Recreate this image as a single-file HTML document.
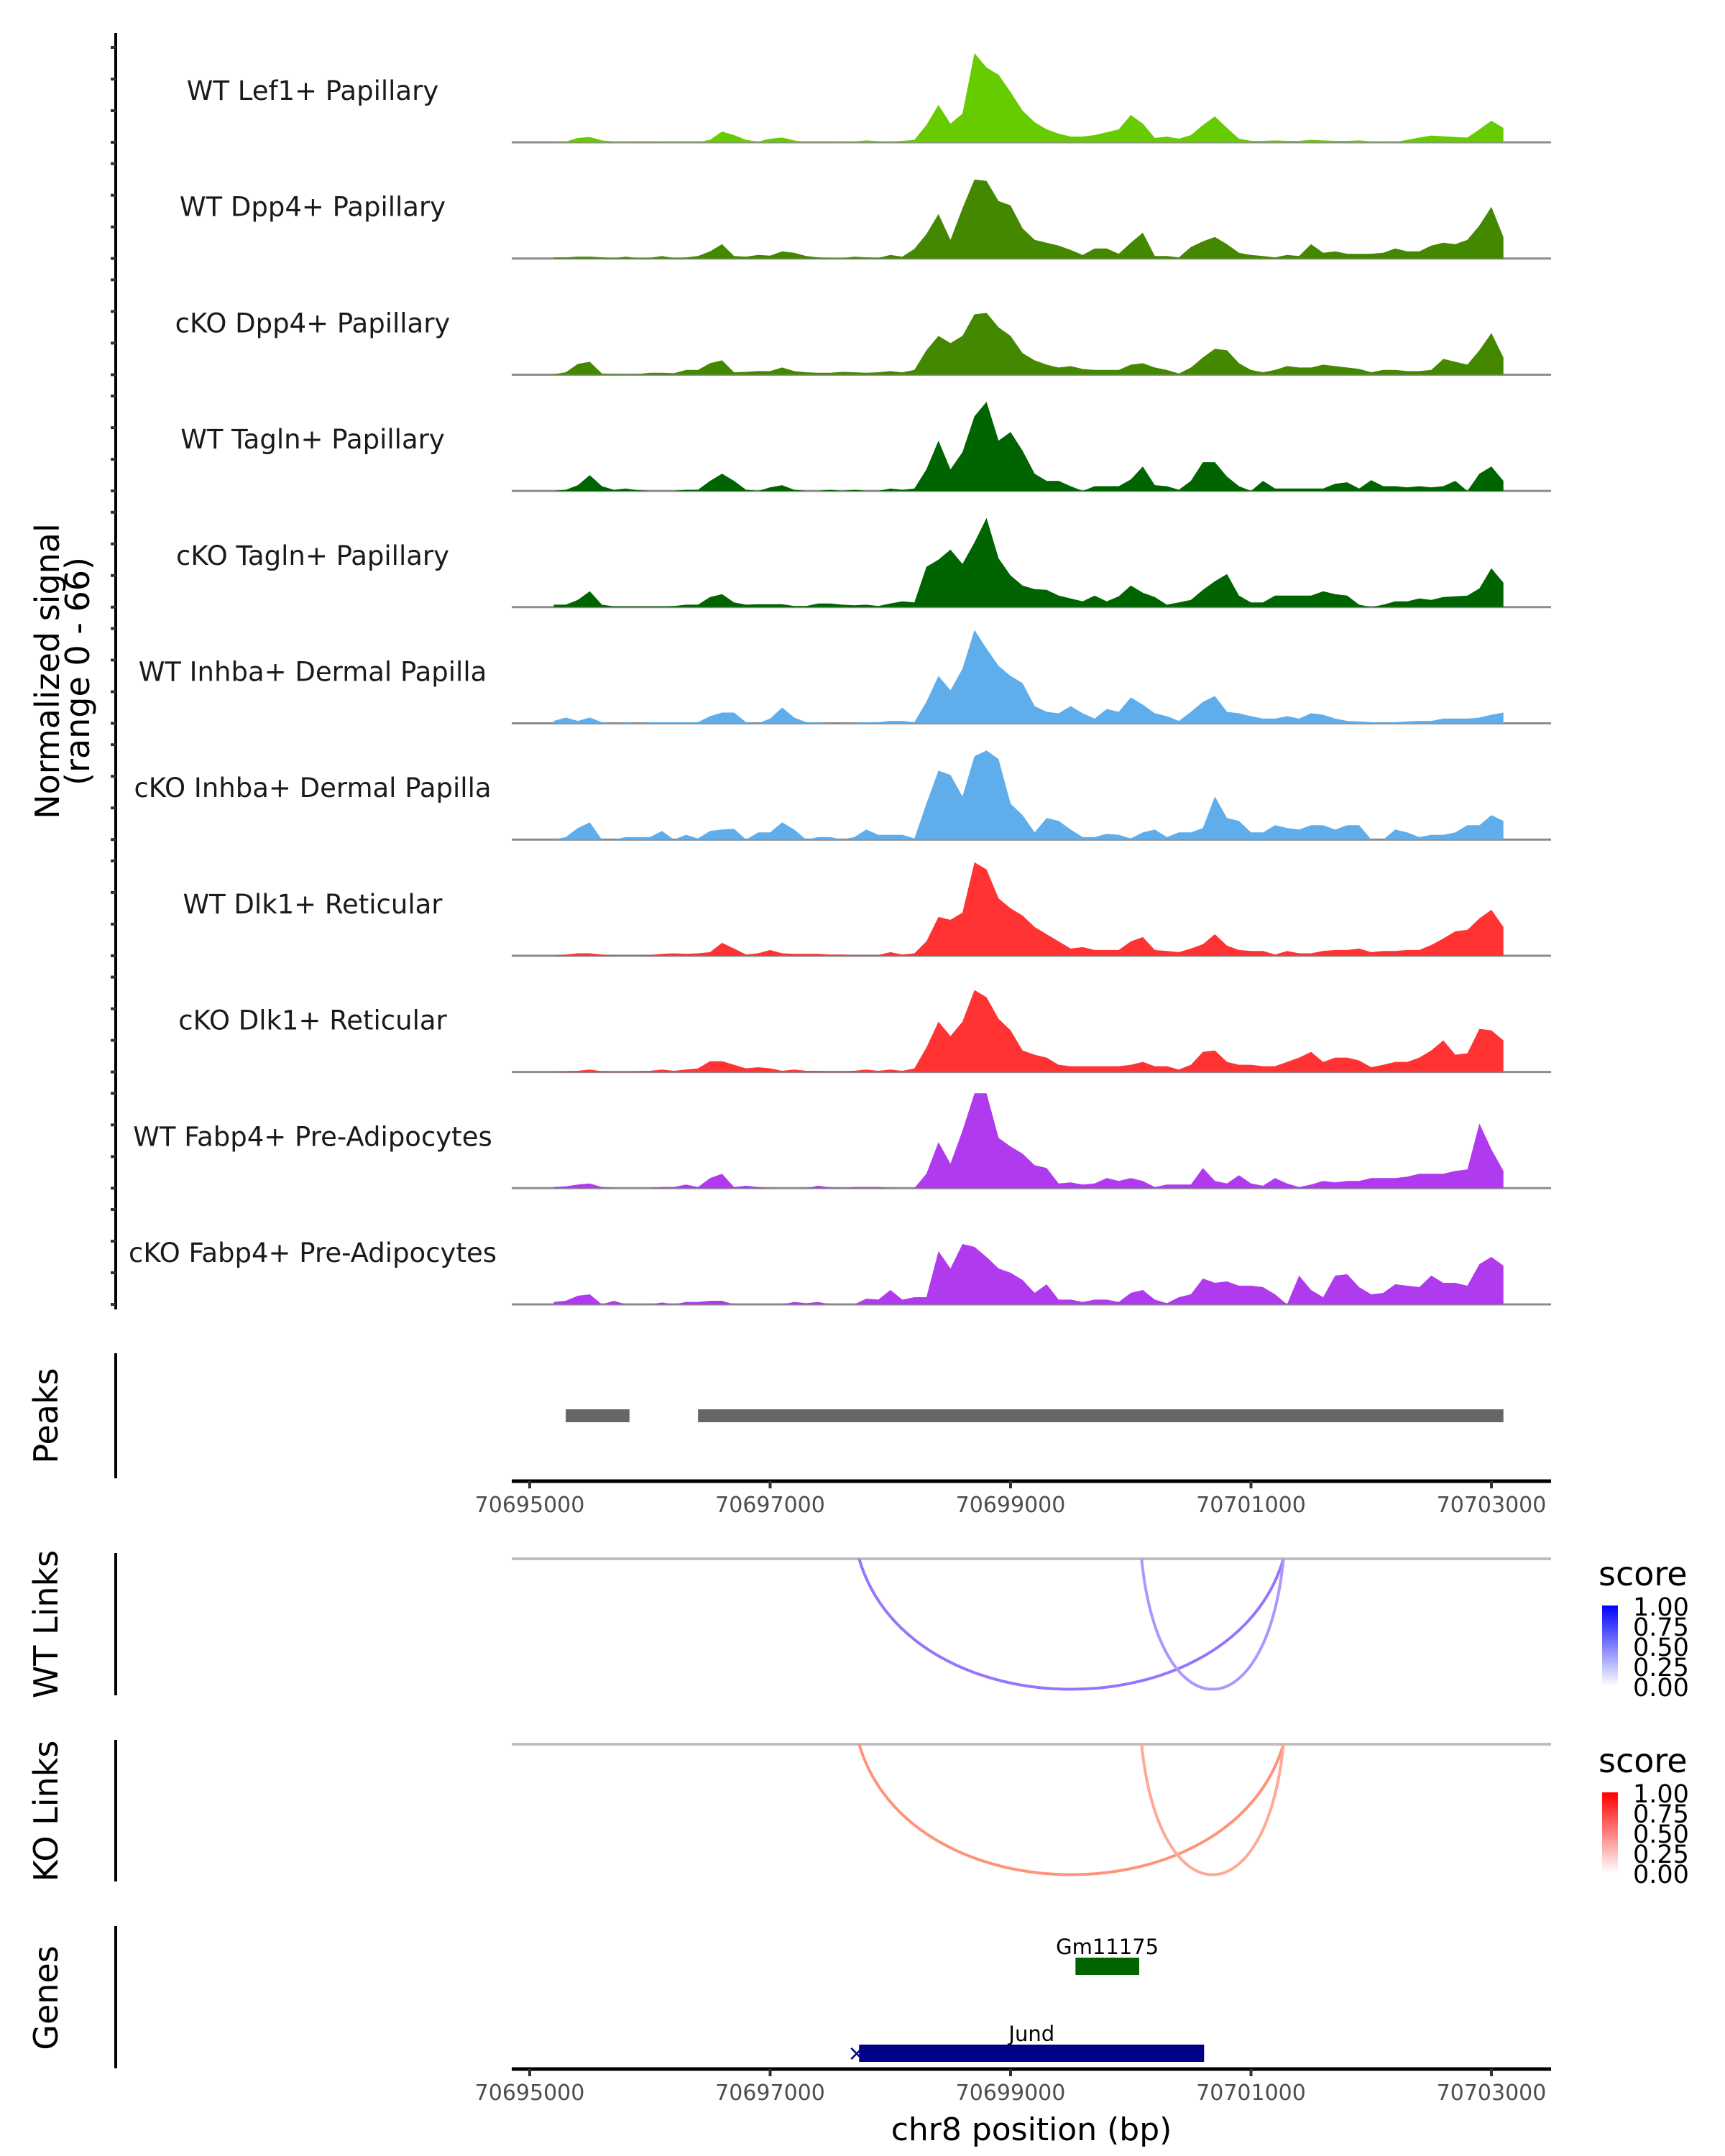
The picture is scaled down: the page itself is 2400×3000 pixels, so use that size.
<!DOCTYPE html>
<html><head><meta charset="utf-8"><style>
html,body{margin:0;padding:0;background:#fff;}
svg{display:block;font-family:"DejaVu Sans","Liberation Sans",sans-serif;}
</style></head><body>
<svg id="chart" width="2400" height="3000" viewBox="0 0 2400 3000" xmlns="http://www.w3.org/2000/svg">
<defs>
<linearGradient id="gradBlue" x1="0" y1="1" x2="0" y2="0"><stop offset="0" stop-color="#ffffff"/><stop offset="1" stop-color="#0000ff"/></linearGradient>
<linearGradient id="gradRed" x1="0" y1="1" x2="0" y2="0"><stop offset="0" stop-color="#ffffff"/><stop offset="1" stop-color="#ff0000"/></linearGradient>
</defs>
<g id="tracks"></g>
<line x1="161" y1="46" x2="161" y2="1822" stroke="#000" stroke-width="4"/>
<g id="yticks"></g>
<text transform="translate(82,934) rotate(-90)" text-anchor="middle" font-size="46" fill="#000">Normalized signal</text>
<text transform="translate(124,934) rotate(-90)" text-anchor="middle" font-size="46" fill="#000">(range 0 - 66)</text>

<line x1="161" y1="1883" x2="161" y2="2057" stroke="#000" stroke-width="4"/>
<text transform="translate(80,1970) rotate(-90)" text-anchor="middle" font-size="46" fill="#000">Peaks</text>
<g id="peaks"></g>
<g id="xaxis1"></g>

<line x1="161" y1="2161" x2="161" y2="2359" stroke="#000" stroke-width="4"/>
<text transform="translate(80,2260) rotate(-90)" text-anchor="middle" font-size="46" fill="#000">WT Links</text>
<line x1="712" y1="2169" x2="2158" y2="2169" stroke="#bebebe" stroke-width="4"/>
<g id="wtlinks"></g>
<g>
<text x="2224" y="2206" font-size="46" fill="#000">score</text>
<rect x="2229" y="2234" width="22" height="112" fill="url(#gradBlue)"/>
<g font-size="35" fill="#000"><text x="2272" y="2248">1.00</text><text x="2272" y="2276">0.75</text><text x="2272" y="2304">0.50</text><text x="2272" y="2332">0.25</text><text x="2272" y="2360">0.00</text></g>
</g>

<line x1="161" y1="2421" x2="161" y2="2618" stroke="#000" stroke-width="4"/>
<text transform="translate(80,2520) rotate(-90)" text-anchor="middle" font-size="46" fill="#000">KO Links</text>
<line x1="712" y1="2427" x2="2158" y2="2427" stroke="#bebebe" stroke-width="4"/>
<g id="kolinks"></g>
<g>
<text x="2224" y="2466" font-size="46" fill="#000">score</text>
<rect x="2229" y="2494" width="22" height="112" fill="url(#gradRed)"/>
<g font-size="35" fill="#000"><text x="2272" y="2508">1.00</text><text x="2272" y="2536">0.75</text><text x="2272" y="2564">0.50</text><text x="2272" y="2592">0.25</text><text x="2272" y="2620">0.00</text></g>
</g>

<line x1="161" y1="2680" x2="161" y2="2878" stroke="#000" stroke-width="4"/>
<text transform="translate(80,2780) rotate(-90)" text-anchor="middle" font-size="46" fill="#000">Genes</text>
<g id="genes"></g>
<g id="xaxis2"></g>
<text x="1435" y="2978" text-anchor="middle" font-size="44" fill="#000">chr8 position (bp)</text>
</svg>
<script>
const trackNames = ["WT Lef1+ Papillary","WT Dpp4+ Papillary","cKO Dpp4+ Papillary","WT Tagln+ Papillary","cKO Tagln+ Papillary","WT Inhba+ Dermal Papilla","cKO Inhba+ Dermal Papilla","WT Dlk1+ Reticular","cKO Dlk1+ Reticular","WT Fabp4+ Pre-Adipocytes","cKO Fabp4+ Pre-Adipocytes"];
const trackColors = ["#66cc00","#448800","#448800","#006400","#006400","#5faeeb","#5faeeb","#ff3333","#ff3333","#b03aee","#b03aee"];
const binStart = 70695200;
const binStep = 100;
const sigLef1WT = [0.3,0.5,3,3.7,1.3,0.7,0.5,0.2,0.3,0.7,0.5,0.8,0.3,1.7,7.5,5,1.7,0.5,2.5,3.3,1.3,0.2,0.2,0.3,0.5,0.7,1.3,0.8,0.7,1,1.7,12,26,13,20,62,52,47,35,22,14,9,6,4,4,5,7,9,19,13,3,4,2.5,5,12,18,10,2.5,1,1,1.3,1,1,1.7,1.3,1,1,1.3,0.7,0.7,0.3,1.7,3.3,4.7,4.2,3.7,3.3,9,15,10];
const sigDpp4WT = [0.8,0.7,1.3,1.3,0.8,0.3,1.3,0.2,0.5,1.7,0.3,0.7,1.7,5,10,1.7,1.3,2.5,2,5,4,1.7,0.8,0.3,0.3,1.3,0.8,0.5,2.5,1.3,6.7,17,31,13,35,55,54,40,37,21,13,11,9,6,2.5,7,7,3.3,11,18,1.7,1.7,0.8,8,12,15,10,4,2.5,1.7,0.8,2.5,1.7,10,4,5,3.3,3.3,3.3,4,7,5,5,9,11,10,13,23,36,15];
const sigDpp4KO = [0.3,1.7,7.5,9,0.8,0.5,0.3,0.5,1.3,1.3,1,3.3,3.3,8,10,1.7,2,2.5,2.5,5,2.5,1.7,1.3,1.3,2,1.7,1.3,1.7,2.5,1.7,3.3,17,27,22,27,42,43,33,27,15,10,7,5,6,4,3.3,3.3,3.3,7,8,5,3.3,0.8,5,12,18,17,8,3.3,1.7,3.3,6,5,5,7,6,5,4,1.7,3.3,3.3,2.5,2.5,3.3,11,9,7,17,29,12];
const sigTaglnWT = [0,0.8,4,11,3.3,0.8,1.7,0.5,0,0,0,0.8,0.8,7,12,7,0.8,0,2.5,4,0.8,0,0,0.8,0,0.8,0,0,1.7,0.8,1.7,15,35,15,27,52,62,35,41,28,12,7,7,3.3,0,3.3,3.3,3.3,8,17,4,3.3,0.8,7,20,20,10,3.3,0,7,1.7,1.7,1.7,1.7,1.7,5,6,1.7,7.5,3.3,3.3,2.5,3.3,2.5,3.3,7,0,12,17,7];
const sigTaglnKO = [1.7,1.7,5,11,1.7,0.5,0.5,0.5,0.5,0.5,0.8,1.7,1.7,7,9,3.3,1.7,2,2,2,0.8,0.8,2.5,2.5,1.7,1.3,1.7,0.8,2.5,4,3.3,28,33,40,30,45,62,34,22,15,12.5,12,8,6,4,8,4,7.5,15,10,7,1.7,3.3,5,12,18,23,8,3.3,3.3,8,8,8,8,11,9,8,1.7,0,1.7,4,4,6,5,7,7.5,8,13,27,17];
const sigInhbaWT = [1.7,4,1.7,4,0.8,0,0.8,0,0.8,0.8,0.8,0.8,0.8,5,7.5,7.5,0.8,0,3.3,11,4,0.8,0.8,0,0,0.5,0.8,0.8,1.7,1.7,0.8,15,33,23,38,65,52,40,33,28,12,8,7,12,7,3.3,10,8,18,13,7,5,1.7,8,15,19,8,7,5,3.3,3.3,5,3.3,7,6,3.3,1.7,1.3,0.8,0.5,0.8,1.3,1.7,1.7,3.3,3.3,3.3,4,6,7.5];
const sigInhbaKO = [0,1.7,8,12,0,0,1.7,1.7,1.7,6,0,3.3,0.8,6,7,7.5,0,5,5,12,7,0,1.7,1.7,0,1.7,7,3.3,3.3,3.3,0.8,25,48,45,30,58,62,56,25,17,5,15,13,7,1.7,1.7,4,3.3,0.8,5,7,1.7,5,5,8,30,15,13,5,5,10,8,7,10,10,7,10,10,0,0,7,5,1.7,3.3,3.3,5,10,10,17,13];
const sigDlk1WT = [0,0.8,1.7,1.7,0.8,0.3,0.3,0.3,0.5,1.3,1.7,1.3,1.7,2.5,9,5,0.8,1.7,4,1.7,1.3,1.3,1.3,0.8,0.8,0.5,0.5,0.5,2.5,0.8,1.7,10,27,25,30,65,60,40,33,28,20,15,10,5,6,4,4,4,10,13,4,3.3,2.5,5,8,15,7,4,3.3,3.3,0.8,3.3,1.7,1.7,3.3,4,4,5,2.5,3.3,3.3,4,4,7.5,12,17,18,26,32,20];
const sigDlk1KO = [0,0.5,0.8,1.7,0.5,0.3,0.3,0.5,0.8,1.7,0.8,1.7,2.5,7.5,7.5,5,2.5,3.3,2.5,0.8,1.7,0.8,0.8,0.5,0.5,0.8,1.7,0.8,1.7,0.8,2.5,17,35,25,35,57,52,37,29,15,12,10,5,4,4,4,4,4,5,7,4,4,1.7,5,14,15,7,5,5,4,4,7,10,14,7,10,10,8,3.3,5,7,7,10,15,22,12,13,30,29,22];
const sigFabp4WT = [0.8,1.3,2.5,3.3,0.8,0,0,0,0,0.8,0.8,2.5,0.8,7,10,0.8,1.7,0.8,0,0,0,0,1.7,0.5,0,0.8,0.8,0.8,0,0,0,10,32,17,40,66,66,35,29,24,16,14,3.3,4,2.5,3.3,7,5,7,5,0.8,2.5,2.5,2.5,14,5,3.3,9,3.3,1.7,7,3.3,0.8,2.5,5,4,5,5,7,7,7,8,10,10,10,12,13,45,27,12];
const sigFabp4KO = [1.7,2.5,6,7,0,2.5,0,0,0,1.3,0,1.7,1.7,2.5,2.5,0,0,0,0,0,1.7,0.8,1.7,0,0,0,4,3.3,10,3.3,5,5,37,25,42,40,33,25,22,17,8,14,3.3,3.3,1.7,3.3,3.3,1.7,8,10,3.3,0.8,5,7,18,15,16,13,13,12,7,0,20,10,5,20,21,12,7,8,14,13,12,20,15,15,13,28,33,27];
const allSignals = [sigLef1WT,sigDpp4WT,sigDpp4KO,sigTaglnWT,sigTaglnKO,sigInhbaWT,sigInhbaKO,sigDlk1WT,sigDlk1KO,sigFabp4WT,sigFabp4KO];
const xTicks = [70695000,70697000,70699000,70701000,70703000];
const peakStarts = [70695300,70696400];
const peakEnds = [70695830,70703100];
const wtLinkStarts = [70697740,70700090];
const wtLinkEnds = [70701270,70701270];
const wtLinkScores = [0.6,0.4];
const koLinkStarts = [70697740,70700090];
const koLinkEnds = [70701270,70701270];
const koLinkScores = [0.6,0.4];
const geneNames = ["Gm11175","Jund"];
const geneStarts = [70699540,70697740];
const geneEnds = [70700070,70700610];
const geneColors = ["#006400","#00008b"];

const NS="http://www.w3.org/2000/svg";
function mk(tag,attrs,parent){const e=document.createElementNS(NS,tag);for(const k in attrs)e.setAttribute(k,attrs[k]);parent.appendChild(e);return e;}
function xs(bp){return 737+(bp-70695000)*0.16725;}
const maxV=66, trackH=132;
function base(i){return 198+i*161.7;}
function ys(v,i){return base(i)-v/maxV*trackH;}

const tg=document.getElementById('tracks');
allSignals.forEach((sig,i)=>{
  const b=base(i);
  const bl=mk('line',{x1:712,y1:b,x2:2158,y2:b,stroke:'#8c8c8c','stroke-width':3},tg);
  
  
  let d='M'+xs(binStart)+','+b;
  sig.forEach((v,j)=>{d+=' L'+xs(binStart+j*binStep).toFixed(1)+','+ys(v,i).toFixed(1);});
  d+=' L'+xs(binStart+(sig.length-1)*binStep).toFixed(1)+','+b+' Z';
  const p=mk('path',{d:d,fill:trackColors[i]},tg);
  
  
  const t=mk('text',{x:435,y:b-59,'text-anchor':'middle','font-size':37,fill:'#1a1a1a'},tg);
  t.textContent=trackNames[i];
  
  
});
const yt=document.getElementById('yticks');
for(let i=0;i<allSignals.length;i++){
  for(let k=0;k<4;k++){
    const y=base(i)-k*44;
    const l=mk('line',{x1:154,y1:y,x2:161,y2:y,stroke:'#333','stroke-width':4},yt);
    
    
  }
}
const pg=document.getElementById('peaks');
peakStarts.forEach((s,i)=>{
  const r=mk('rect',{x:xs(s),y:1961,width:xs(peakEnds[i])-xs(s),height:18,fill:'#666666'},pg);
  
  
});
function axis(id,y){
  const g=document.getElementById(id);
  const al=mk('line',{x1:712,y1:y,x2:2158,y2:y,stroke:'#000','stroke-width':5},g);
  
  
  xTicks.forEach(t=>{
    const tk=mk('line',{x1:xs(t),y1:y,x2:xs(t),y2:y+10,stroke:'#333','stroke-width':4},g);
    
    
    const tx=mk('text',{x:xs(t),y:y+43,'text-anchor':'middle','font-size':30,fill:'#4d4d4d'},g);
    tx.textContent=String(t);
    
    
  });
}
axis('xaxis1',2061);
axis('xaxis2',2879);
function mix(a,b,f){const pa=[1,3,5].map(k=>parseInt(a.substr(k,2),16)),pb=[1,3,5].map(k=>parseInt(b.substr(k,2),16));return 'rgb('+pa.map((v,k)=>Math.round(v+(pb[k]-v)*f)).join(',')+')';}
function links(id,starts,ends,scores,y0,depth,c1,c0){
  const g=document.getElementById(id);
  starts.forEach((s,i)=>{
    const x1=xs(s),x2=xs(ends[i]);
    const col=mix(c0,c1,scores[i]);
    const p=mk('path',{d:`M${x1},${y0} C${x1+(x2-x1)*0.12},${y0+depth*1.33} ${x2-(x2-x1)*0.12},${y0+depth*1.33} ${x2},${y0}`,fill:'none',stroke:col,'stroke-width':4},g);
    
    
  });
}
links('wtlinks',wtLinkStarts,wtLinkEnds,wtLinkScores,2169,182,'#6633ff','#e0d6ff');
links('kolinks',koLinkStarts,koLinkEnds,koLinkScores,2427,182,'#ff6644','#ffd6cc');
const gg=document.getElementById('genes');
geneNames.forEach((n,i)=>{
  const yc = i===0?2736:2857;
  const r=mk('rect',{x:xs(geneStarts[i]),y:yc-12,width:xs(geneEnds[i])-xs(geneStarts[i]),height:24,fill:geneColors[i]},gg);
  
  
  const t=mk('text',{x:(xs(geneStarts[i])+xs(geneEnds[i]))/2,y:yc-17,'text-anchor':'middle','font-size':29,fill:'#000'},gg);
  t.textContent=n;
  
  
});
const arr=mk('text',{x:xs(geneStarts[1])-16,y:2867,'font-size':30,fill:'#00008b'},gg);
arr.textContent='×';


</script>
</body></html>
